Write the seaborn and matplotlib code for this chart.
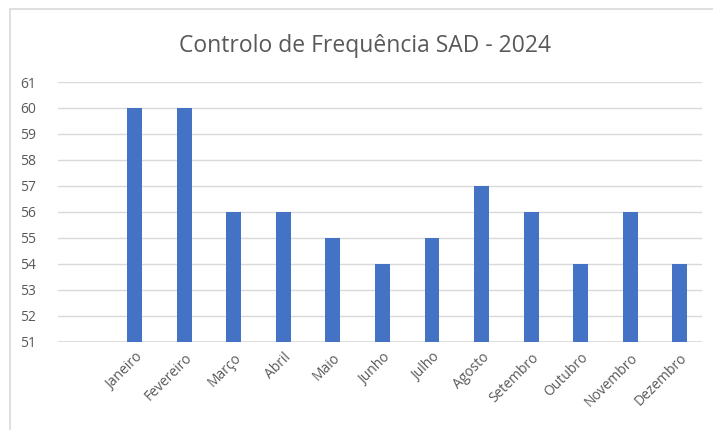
import matplotlib
matplotlib.use("Agg")
import matplotlib.pyplot as plt
import seaborn as sns
import pandas as pd
from matplotlib.patches import Rectangle

# Dados do gráfico
meses = ["Janeiro", "Fevereiro", "Março", "Abril", "Maio", "Junho",
         "Julho", "Agosto", "Setembro", "Outubro", "Novembro", "Dezembro"]
valores = [60, 60, 56, 56, 55, 54, 55, 57, 56, 54, 56, 54]
y_ticks = list(range(51, 62))

sns.set_theme(style="white")
plt.rcParams["font.family"] = ["Open Sans", "DejaVu Sans"]

df = pd.DataFrame({"mes": meses, "valor": valores})

fig = plt.figure(figsize=(7.13, 4.30), dpi=100)
ax = fig.add_axes([0.0813, 0.2047, 0.9033, 0.6046])

# barras começam em 51 (base do eixo, como no Excel)
sns.barplot(data=df, x="mes", y="valor", color="#4472C4", width=0.3,
            saturation=1, linewidth=0, ax=ax, zorder=3)
for p in ax.patches:
    p.set_y(51)
    p.set_height(p.get_height() - 51)

ax.set_ylim(51, 61)
ax.set_xlim(-1.55, 11.45)
ax.set_yticks(y_ticks)
ax.grid(axis="y", color="#D9D9D9", linewidth=1, zorder=0)
for s in ax.spines.values():
    s.set_visible(False)
ax.axhline(51, color="#D9D9D9", linewidth=1.2, zorder=1)

ax.tick_params(axis="both", length=0, labelsize=10, colors="#595959", pad=6)
ax.tick_params(axis="y", pad=16)
plt.setp(ax.get_xticklabels(), rotation=45, ha="right", rotation_mode="anchor")
ax.set_xlabel("")
ax.set_ylabel("")

fig.text(0.512, 0.893, "Controlo de Frequência SAD - 2024", ha="center",
         va="center", fontsize=16.5, color="#595959")

# moldura do gráfico
fig.patches.append(Rectangle((0.014, -0.01), 1.0, 0.99, transform=fig.transFigure,
                             fill=False, edgecolor="#D9D9D9", linewidth=1.2))

fig.savefig("out.png", dpi=100)
plt.close(fig)
